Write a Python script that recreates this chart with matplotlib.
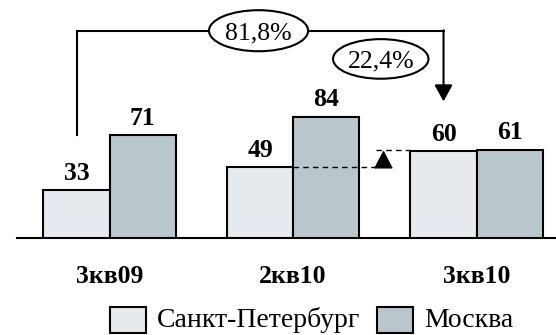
import matplotlib
matplotlib.use("Agg")
import matplotlib.pyplot as plt
from matplotlib.patches import Ellipse, Rectangle

# ---- data ----
categories = ["3кв09", "2кв10", "3кв10"]
spb = [33, 49, 60]
msk = [71, 84, 61]
series_names = ["Санкт-Петербург", "Москва"]
growth_labels = ["81,8%", "22,4%"]

# ---- style ----
SERIF = "Liberation Serif"
c_spb = "#E6EAEE"
c_msk = "#B9C7CD"
W, H = 556, 335
DPI = 100

fig = plt.figure(figsize=(W / DPI, H / DPI), dpi=DPI)
base_px = 237.5
left_px = 16.7
ax = fig.add_axes([left_px / W, (H - base_px) / H, (W - left_px) / W, base_px / H])
px_per_unit = 1.44
ax.set_ylim(0, base_px / px_per_unit)
ax.set_xlim(-0.506, 2.433)

bw = 0.36
xs = list(range(len(categories)))
x_spb = [x - bw / 2 for x in xs]
x_msk = [x + bw / 2 for x in xs]

ax.bar(x_spb, spb, width=bw, color=c_spb, edgecolor="black", linewidth=1.5, zorder=3)
ax.bar(x_msk, msk, width=bw, color=c_msk, edgecolor="black", linewidth=1.5, zorder=3)

for s in ["top", "left", "right"]:
    ax.spines[s].set_visible(False)
ax.spines["bottom"].set_linewidth(1.5)
ax.set_xticks([])
ax.set_yticks([])

# value labels
for xv, v in list(zip(x_spb, spb)) + list(zip(x_msk, msk)):
    ax.annotate(str(v), xy=(xv, v), xytext=(0, 7.5), textcoords="offset points",
                ha="center", va="baseline", fontsize=18.5, fontweight="bold",
                family=SERIF, zorder=5)

# category labels
for xv, c in zip(xs, categories):
    ax.annotate(c, xy=(xv, 0), xycoords=("data", "axes fraction"),
                xytext=(0, -33), textcoords="offset points",
                ha="center", va="baseline", fontsize=18.5, fontweight="bold",
                family=SERIF, annotation_clip=False)

# big bracket from 3кв09 to 3кв10 (SPb)
y_top = 143.4
ax.plot([x_spb[0], x_spb[0], x_spb[2]], [msk[0], y_top, y_top], color="black",
        lw=1.5, solid_joinstyle="miter", zorder=4, clip_on=False)
ax.annotate("", xy=(x_spb[2], 94.5), xytext=(x_spb[2], y_top + 0.5),
            arrowprops=dict(arrowstyle="-|>,head_length=1.0,head_width=0.55",
                            mutation_scale=10, lw=1.5, color="black",
                            shrinkA=0, shrinkB=0), annotation_clip=False)

e1 = Ellipse((0.812, 143.6), width=0.54, height=28.5, facecolor="white",
             edgecolor="black", lw=1.5, zorder=6, clip_on=False)
ax.add_patch(e1)
ax.text(0.812, 143.6, growth_labels[0], ha="center", va="center_baseline",
        fontsize=18.5, family=SERIF, zorder=7)

e2 = Ellipse((1.478, 124.0), width=0.52, height=27.5, facecolor="white",
             edgecolor="black", lw=1.5, zorder=6, clip_on=False)
ax.add_patch(e2)
ax.text(1.478, 124.0, growth_labels[1], ha="center", va="center_baseline",
        fontsize=18.5, family=SERIF, zorder=7)

# dashed comparison lines for SPb 2кв10 -> 3кв10
x_arr = 1.493
ax.plot([1.0, x_arr - 0.04], [spb[1], spb[1]], ls=(0, (4, 3)), color="black", lw=1.0, zorder=5)
ax.plot([x_arr - 0.04, 2 - bw], [spb[2] + 0.5, spb[2] + 0.5], ls=(0, (4, 3)), color="black", lw=1.0, zorder=5)
ax.annotate("", xy=(x_arr, spb[2] + 0.5), xytext=(x_arr, spb[1]),
            arrowprops=dict(arrowstyle="-|>,head_length=1.15,head_width=0.6",
                            mutation_scale=10, lw=1.0, color="black",
                            shrinkA=0, shrinkB=0))

# legend (manual)
def fx(p):
    return p / W

def fy(p):
    return (H - p) / H

fig.patches.append(Rectangle((fx(109.5), fy(333)), fx(36.5), 26.5 / H, transform=fig.transFigure,
                             facecolor=c_spb, edgecolor="black", lw=1.5))
fig.text(fx(157), fy(327), series_names[0], fontsize=20, family=SERIF, va="baseline", ha="left")
fig.patches.append(Rectangle((fx(376.5), fy(333)), fx(36.5), 26.5 / H, transform=fig.transFigure,
                             facecolor=c_msk, edgecolor="black", lw=1.5))
fig.text(fx(424.5), fy(327), series_names[1], fontsize=20, family=SERIF, va="baseline", ha="left")

fig.savefig("out.png", dpi=DPI)
